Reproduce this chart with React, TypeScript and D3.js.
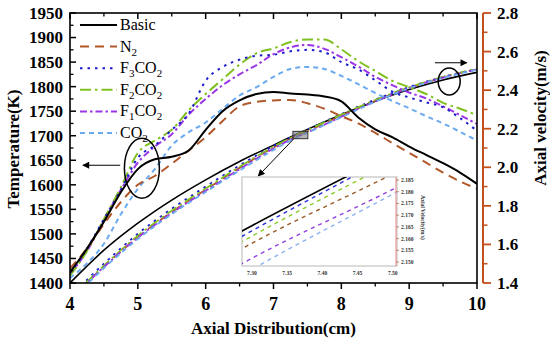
import React, { useEffect, useRef } from 'react';
import * as d3 from 'd3';

const width = 550;
const height = 345;
const plot = { left: 70, right: 477, top: 13, bottom: 283 };
const font = '"Liberation Serif", "Times New Roman", serif';

// temperature curves (K)
const tempX = [4, 4.25, 4.5, 4.75, 5, 5.25, 5.5, 5.75, 6, 6.25, 6.5, 6.75, 7, 7.25, 7.5, 7.75, 8, 8.25, 8.5, 8.75, 9, 9.25, 9.5, 9.75, 10];
const basicTemp = [1422, 1470, 1525, 1585, 1632, 1652, 1657, 1670, 1712, 1750, 1772, 1785, 1789, 1786, 1784, 1780, 1770, 1737, 1713, 1697, 1678, 1661, 1644, 1625, 1602];
const n2Temp = [1430, 1470, 1520, 1565, 1600, 1618, 1643, 1670, 1697, 1730, 1760, 1769, 1772, 1773, 1766, 1755, 1740, 1725, 1706, 1685, 1665, 1645, 1625, 1607, 1592];
const f3Temp = [1420, 1470, 1530, 1590, 1655, 1680, 1712, 1745, 1812, 1840, 1855, 1863, 1865, 1872, 1875, 1870, 1850, 1835, 1813, 1790, 1778, 1768, 1758, 1736, 1710];
const f2Temp = [1415, 1465, 1530, 1595, 1665, 1690, 1712, 1752, 1785, 1815, 1845, 1868, 1878, 1891, 1896, 1896, 1876, 1852, 1832, 1812, 1799, 1785, 1767, 1755, 1742];
const f1Temp = [1418, 1465, 1528, 1590, 1645, 1678, 1703, 1743, 1775, 1803, 1825, 1844, 1866, 1880, 1885, 1877, 1860, 1841, 1820, 1803, 1788, 1776, 1760, 1742, 1724];
const co2Temp = [1410, 1440, 1480, 1540, 1592, 1632, 1680, 1707, 1727, 1755, 1782, 1799, 1820, 1836, 1840, 1836, 1822, 1805, 1787, 1771, 1756, 1740, 1725, 1708, 1690];

// axial velocity curves (m/s)
const velX = [4, 4.5, 5, 5.5, 6, 6.5, 7, 7.3, 7.5, 8, 8.5, 9, 9.5, 10];
const basicVel = [1.4, 1.57, 1.71, 1.83, 1.935, 2.03, 2.115, 2.1655, 2.1966, 2.272, 2.342, 2.403, 2.453, 2.492];
const n2Vel = [1.315, 1.485, 1.638, 1.768, 1.884, 1.997, 2.103, 2.158, 2.1876, 2.268, 2.345, 2.412, 2.466, 2.508];
const f3Vel = [1.33, 1.5, 1.655, 1.785, 1.9, 2.01, 2.11, 2.1633, 2.1956, 2.276, 2.351, 2.416, 2.469, 2.51];
const f2Vel = [1.32, 1.49, 1.645, 1.775, 1.89, 2.003, 2.107, 2.161, 2.1926, 2.273, 2.349, 2.415, 2.469, 2.511];
const f1Vel = [1.315, 1.483, 1.635, 1.763, 1.878, 1.99, 2.097, 2.1516, 2.181, 2.262, 2.342, 2.41, 2.465, 2.507];
const co2Vel = [1.305, 1.477, 1.628, 1.757, 1.872, 1.983, 2.09, 2.1468, 2.179, 2.259, 2.34, 2.409, 2.464, 2.506];

const xTicks = [4, 5, 6, 7, 8, 9, 10];
const tempTicks = [1400, 1450, 1500, 1550, 1600, 1650, 1700, 1750, 1800, 1850, 1900, 1950];
const velTicks = [1.4, 1.6, 1.8, 2.0, 2.2, 2.4, 2.6, 2.8];
const insetXTicks = [7.3, 7.35, 7.4, 7.45, 7.5];
const insetVelTicks = [2.15, 2.155, 2.16, 2.165, 2.17, 2.175, 2.18, 2.185];

type Seg = { t: string; sub?: boolean };
const series = [
  { key: 'basic', label: [{ t: 'Basic' }] as Seg[], temp: basicTemp, vel: basicVel },
  { key: 'n2', label: [{ t: 'N' }, { t: '2', sub: true }] as Seg[], temp: n2Temp, vel: n2Vel },
  { key: 'f3', label: [{ t: 'F' }, { t: '3', sub: true }, { t: 'CO' }, { t: '2', sub: true }] as Seg[], temp: f3Temp, vel: f3Vel },
  { key: 'f2', label: [{ t: 'F' }, { t: '2', sub: true }, { t: 'CO' }, { t: '2', sub: true }] as Seg[], temp: f2Temp, vel: f2Vel },
  { key: 'f1', label: [{ t: 'F' }, { t: '1', sub: true }, { t: 'CO' }, { t: '2', sub: true }] as Seg[], temp: f1Temp, vel: f1Vel },
  { key: 'co2', label: [{ t: 'CO' }, { t: '2', sub: true }] as Seg[], temp: co2Temp, vel: co2Vel },
];

const styles: Record<string, { color: string; dash: string; insetColor: string }> = {
  basic: { color: '#000000', dash: 'none', insetColor: '#000000' },
  n2: { color: '#b0582a', dash: '9,6', insetColor: '#9a5a26' },
  f3: { color: '#1c1ccc', dash: '2.5,5', insetColor: '#2a34d8' },
  f2: { color: '#80c020', dash: '11,4,2.5,4', insetColor: '#8acb2a' },
  f1: { color: '#9a36e6', dash: '7,3,2.5,3', insetColor: '#9340e0' },
  co2: { color: '#6aaaf0', dash: '5,4', insetColor: '#8db2ee' },
};

function App() {
  const ref = useRef<SVGSVGElement>(null);

  useEffect(() => {
    const svg = d3.select(ref.current);
    svg.selectAll('*').remove();

    const x = d3.scaleLinear().domain([4, 10]).range([plot.left, plot.right]);
    const yT = d3.scaleLinear().domain([1400, 1950]).range([plot.bottom, plot.top]);
    const yV = d3.scaleLinear().domain([1.4, 2.8]).range([plot.bottom, plot.top]);

    const inset = { left: 242, right: 397, top: 177, bottom: 266 };
    const xi = d3.scaleLinear().domain([7.286, 7.506]).range([inset.left, inset.right]);
    const yi = d3.scaleLinear().domain([2.1483, 2.1863]).range([inset.bottom, inset.top]);

    const defs = svg.append('defs');
    defs.append('clipPath').attr('id', 'plotClip').append('rect')
      .attr('x', plot.left).attr('y', plot.top)
      .attr('width', plot.right - plot.left).attr('height', plot.bottom - plot.top);
    defs.append('clipPath').attr('id', 'insetClip').append('rect')
      .attr('x', inset.left).attr('y', inset.top)
      .attr('width', inset.right - inset.left).attr('height', inset.bottom - inset.top);
    defs.append('marker').attr('id', 'arrow')
      .attr('viewBox', '0 0 10 10').attr('refX', 9).attr('refY', 5)
      .attr('markerWidth', 9).attr('markerHeight', 7).attr('orient', 'auto')
      .attr('markerUnits', 'userSpaceOnUse')
      .append('path').attr('d', 'M0,0 L10,5 L0,10 z').attr('fill', '#000');

    svg.append('rect').attr('width', width).attr('height', height).attr('fill', '#fff');

    const g = svg.append('g').attr('clip-path', 'url(#plotClip)');

    // velocity curves
    series.forEach((s) => {
      const line = d3.line<number>().x((_, i) => x(velX[i])).y((d) => yV(d)).curve(d3.curveMonotoneX);
      g.append('path').attr('d', line(s.vel))
        .attr('fill', 'none').attr('stroke', styles[s.key].color)
        .attr('stroke-width', s.key === 'basic' ? 1.6 : 1.8)
        .attr('stroke-dasharray', styles[s.key].dash);
    });
    // temperature curves
    [...series].reverse().forEach((s) => {
      const line = d3.line<number>().x((_, i) => x(tempX[i])).y((d) => yT(d)).curve(d3.curveMonotoneX);
      g.append('path').attr('d', line(s.temp))
        .attr('fill', 'none').attr('stroke', styles[s.key].color)
        .attr('stroke-width', 2)
        .attr('stroke-dasharray', styles[s.key].dash);
    });

    // frame
    svg.append('rect').attr('x', plot.left).attr('y', plot.top)
      .attr('width', plot.right - plot.left).attr('height', plot.bottom - plot.top)
      .attr('fill', 'none').attr('stroke', '#000').attr('stroke-width', 1.6);

    // x ticks (bottom outward, top inward)
    const xMinor = xTicks.slice(0, -1).map((v) => v + 0.5);
    xTicks.forEach((v) => {
      svg.append('line').attr('x1', x(v)).attr('x2', x(v)).attr('y1', plot.bottom).attr('y2', plot.bottom + 6)
        .attr('stroke', '#000').attr('stroke-width', 1.5);
      svg.append('line').attr('x1', x(v)).attr('x2', x(v)).attr('y1', plot.top).attr('y2', plot.top + 6)
        .attr('stroke', '#000').attr('stroke-width', 1.5);
      svg.append('text').attr('x', x(v)).attr('y', 310).attr('text-anchor', 'middle')
        .attr('font-family', font).attr('font-weight', 'bold').attr('font-size', 18).text(v);
    });
    xMinor.forEach((v) => {
      svg.append('line').attr('x1', x(v)).attr('x2', x(v)).attr('y1', plot.bottom).attr('y2', plot.bottom + 3.5)
        .attr('stroke', '#000').attr('stroke-width', 1.3);
      svg.append('line').attr('x1', x(v)).attr('x2', x(v)).attr('y1', plot.top).attr('y2', plot.top + 3.5)
        .attr('stroke', '#000').attr('stroke-width', 1.3);
    });

    // left temperature axis (ticks inward)
    tempTicks.forEach((v, i) => {
      svg.append('line').attr('x1', plot.left).attr('x2', plot.left + 6).attr('y1', yT(v)).attr('y2', yT(v))
        .attr('stroke', '#000').attr('stroke-width', 1.5);
      if (i < tempTicks.length - 1) {
        svg.append('line').attr('x1', plot.left).attr('x2', plot.left + 3.5).attr('y1', yT(v + 25)).attr('y2', yT(v + 25))
          .attr('stroke', '#000').attr('stroke-width', 1.3);
      }
      svg.append('text').attr('x', 63).attr('y', yT(v)).attr('dy', '0.35em').attr('text-anchor', 'end')
        .attr('font-family', font).attr('font-weight', 'bold').attr('font-size', 17).text(v);
    });

    // right velocity axis (orange, ticks outward)
    const axisX = 483;
    const orange = '#c2501c';
    svg.append('line').attr('x1', axisX).attr('x2', axisX).attr('y1', plot.top).attr('y2', plot.bottom)
      .attr('stroke', orange).attr('stroke-width', 2);
    velTicks.forEach((v, i) => {
      svg.append('line').attr('x1', axisX).attr('x2', axisX + 8).attr('y1', yV(v)).attr('y2', yV(v))
        .attr('stroke', orange).attr('stroke-width', 1.8);
      if (i < velTicks.length - 1) {
        svg.append('line').attr('x1', axisX).attr('x2', axisX + 4.5).attr('y1', yV(v + 0.1)).attr('y2', yV(v + 0.1))
          .attr('stroke', orange).attr('stroke-width', 1.5);
      }
      svg.append('text').attr('x', 497).attr('y', yV(v)).attr('dy', '0.35em')
        .attr('font-family', font).attr('font-weight', 'bold').attr('font-size', 17).text(d3.format('.1f')(v));
    });

    // axis titles
    svg.append('text').attr('x', (plot.left + plot.right) / 2).attr('y', 334).attr('text-anchor', 'middle')
      .attr('font-family', font).attr('font-weight', 'bold').attr('font-size', 17).text('Axial Distribution(cm)');
    svg.append('text').attr('transform', 'translate(19,149) rotate(-90)').attr('text-anchor', 'middle')
      .attr('font-family', font).attr('font-weight', 'bold').attr('font-size', 17).text('Temperature(K)');
    svg.append('text').attr('transform', 'translate(546,118) rotate(-90)').attr('text-anchor', 'middle')
      .attr('font-family', font).attr('font-weight', 'bold').attr('font-size', 17).text('Axial velocity(m/s)');

    // legend
    series.forEach((s, i) => {
      const ly = 25 + i * 21.6;
      svg.append('line').attr('x1', 80).attr('x2', 117).attr('y1', ly).attr('y2', ly)
        .attr('stroke', styles[s.key].color).attr('stroke-width', 2).attr('stroke-dasharray', styles[s.key].dash);
      const t = svg.append('text').attr('x', 120).attr('y', ly + 5)
        .attr('font-family', font).attr('font-size', 16);
      let shifted = false;
      s.label.forEach((seg) => {
        const span = t.append('tspan').text(seg.t);
        if (seg.sub && !shifted) { span.attr('dy', 4).attr('font-size', 11); shifted = true; }
        else if (seg.sub) { span.attr('font-size', 11); }
        else if (shifted) { span.attr('dy', -4); shifted = false; }
      });
    });

    // annotations
    svg.append('ellipse').attr('cx', x(5.06)).attr('cy', yT(1634)).attr('rx', 17.5).attr('ry', 30)
      .attr('fill', 'none').attr('stroke', '#000').attr('stroke-width', 1.5);
    svg.append('line').attr('x1', x(4.74)).attr('y1', yT(1640)).attr('x2', x(4.19)).attr('y2', yT(1640))
      .attr('stroke', '#000').attr('stroke-width', 1.1).attr('marker-end', 'url(#arrow)');
    svg.append('ellipse').attr('cx', x(9.59)).attr('cy', yV(2.445)).attr('rx', 11).attr('ry', 13.5)
      .attr('fill', 'none').attr('stroke', '#000').attr('stroke-width', 1.5);
    svg.append('line').attr('x1', x(9.38)).attr('y1', yV(2.542)).attr('x2', x(9.85)).attr('y2', yV(2.542))
      .attr('stroke', '#000').attr('stroke-width', 1.1).attr('marker-end', 'url(#arrow)');

    // zoom box marker on the main chart
    svg.append('rect').attr('x', x(7.286)).attr('y', yV(2.1863))
      .attr('width', x(7.506) - x(7.286)).attr('height', yV(2.1483) - yV(2.1863))
      .attr('fill', '#777').attr('fill-opacity', 0.55).attr('stroke', '#333').attr('stroke-width', 1);
    svg.append('line').attr('x1', x(7.3)).attr('y1', yV(2.148)).attr('x2', xi(7.309)).attr('y2', inset.top - 1)
      .attr('stroke', '#000').attr('stroke-width', 1).attr('marker-end', 'url(#arrow)');

    // inset
    svg.append('rect').attr('x', inset.left).attr('y', inset.top)
      .attr('width', inset.right - inset.left).attr('height', inset.bottom - inset.top)
      .attr('fill', '#fff').attr('stroke', '#c4c4c4').attr('stroke-width', 1.2);
    const gi = svg.append('g').attr('clip-path', 'url(#insetClip)');
    series.forEach((s) => {
      const line = d3.line<number>().x((_, i) => xi(velX[i])).y((d) => yi(d)).curve(d3.curveMonotoneX);
      gi.append('path').attr('d', line(s.vel))
        .attr('fill', 'none').attr('stroke', styles[s.key].insetColor)
        .attr('stroke-width', s.key === 'basic' ? 1.6 : 1.4)
        .attr('stroke-dasharray', s.key === 'basic' ? 'none' : '4,4');
    });
    const pink = '#e8a0a0';
    svg.append('line').attr('x1', inset.right - 1).attr('x2', inset.right - 1).attr('y1', inset.top).attr('y2', inset.bottom)
      .attr('stroke', pink).attr('stroke-width', 1.3);
    insetVelTicks.forEach((v) => {
      svg.append('line').attr('x1', inset.right - 1).attr('x2', inset.right + 2).attr('y1', yi(v)).attr('y2', yi(v))
        .attr('stroke', '#c07050').attr('stroke-width', 0.8);
      svg.append('text').attr('x', inset.right + 4).attr('y', yi(v)).attr('dy', '0.35em')
        .attr('font-family', font).attr('font-weight', 'bold').attr('font-size', 5.5).attr('fill', '#333')
        .text(d3.format('.3f')(v));
    });
    insetXTicks.forEach((v) => {
      svg.append('text').attr('x', xi(v)).attr('y', 275).attr('text-anchor', 'middle')
        .attr('font-family', font).attr('font-weight', 'bold').attr('font-size', 5.5).attr('fill', '#333')
        .text(d3.format('.2f')(v));
    });
    svg.append('text').attr('transform', `translate(421,${(inset.top + inset.bottom) / 2 - 4}) rotate(90)`)
      .attr('text-anchor', 'middle').attr('font-family', font).attr('font-weight', 'bold')
      .attr('font-size', 5.5).attr('fill', '#333').text('Axial Velocity(m/s)');
  }, []);

  return (
    <svg ref={ref} width={width} height={height}
      style={{ position: 'absolute', left: 0, top: 0, display: 'block' }} />
  );
}

export default App;
